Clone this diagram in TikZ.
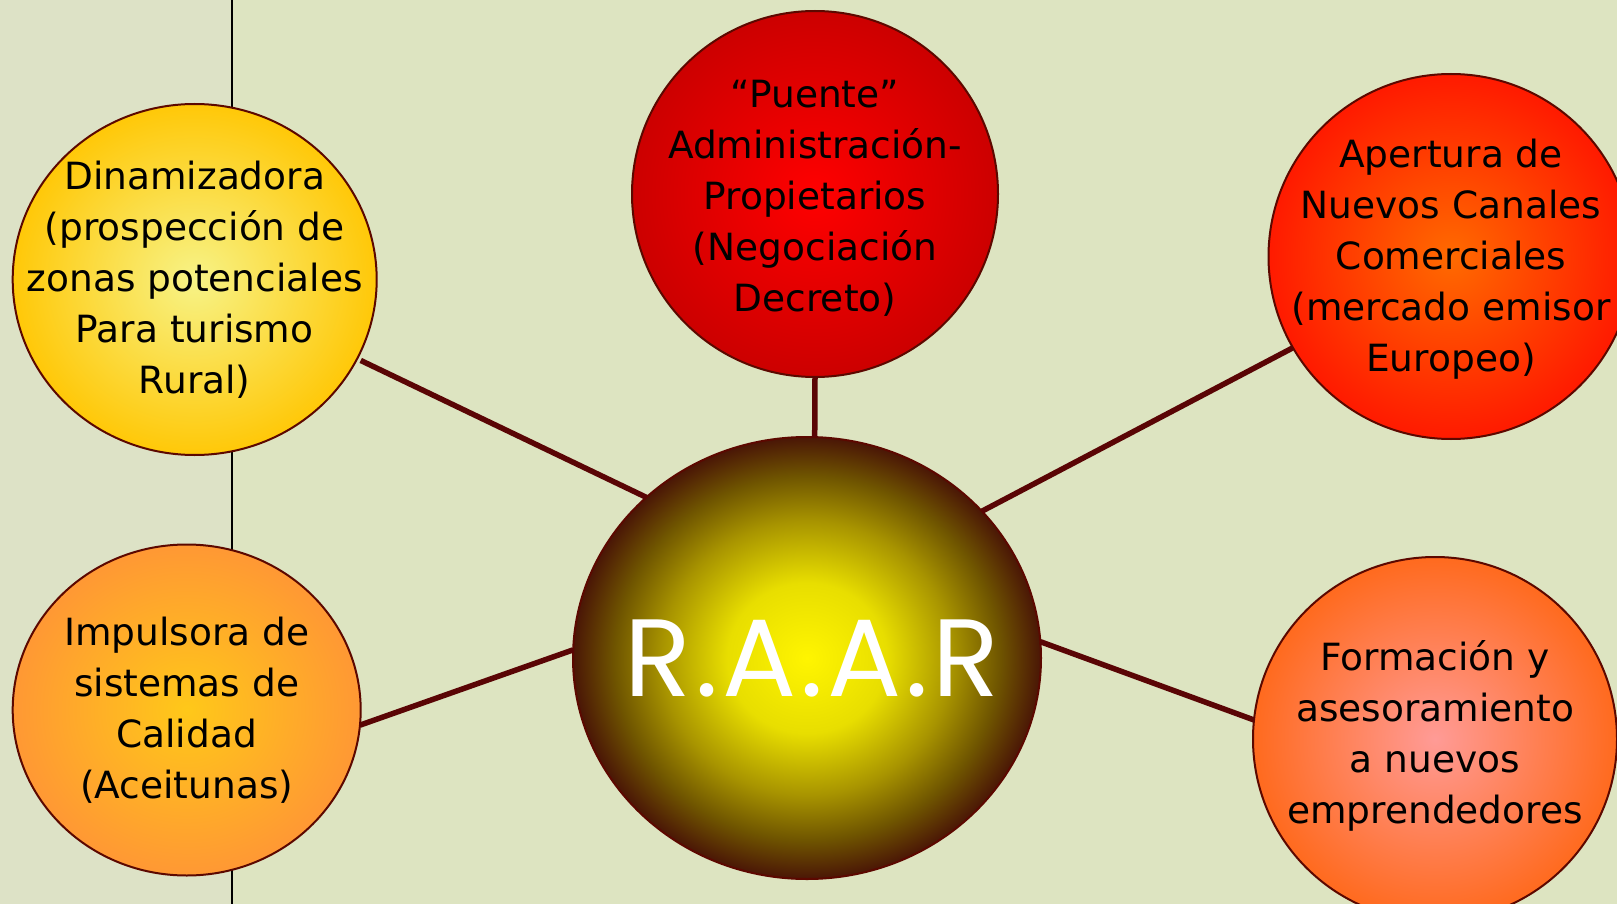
\documentclass[tikz,border=0pt]{standalone}
\usepackage{fontspec}
\setmainfont{DejaVu Sans}
\newfontfamily\raarfont[LetterSpace=3.5]{Poppins}
\usetikzlibrary{shapes.geometric}
\definecolor{bgL}{RGB}{221,226,198}
\definecolor{bgR}{RGB}{221,228,193}
\definecolor{edgec}{RGB}{92,8,0}
\definecolor{linkc}{RGB}{90,5,5}
\pgfdeclareradialshading{shDin}{\pgfpoint{0bp}{0bp}}{color(0bp)=(rgb,255:red,247;green,243;blue,135); color(25bp)=(rgb,255:red,255;green,200;blue,8); color(50bp)=(rgb,255:red,255;green,200;blue,8)}
\pgfdeclareradialshading{shImp}{\pgfpoint{0bp}{0bp}}{color(0bp)=(rgb,255:red,255;green,200;blue,25); color(25bp)=(rgb,255:red,255;green,152;blue,52); color(50bp)=(rgb,255:red,255;green,152;blue,52)}
\pgfdeclareradialshading{shPue}{\pgfpoint{0bp}{0bp}}{color(0bp)=(rgb,255:red,255;green,0;blue,0); color(25bp)=(rgb,255:red,204;green,0;blue,0); color(50bp)=(rgb,255:red,204;green,0;blue,0)}
\pgfdeclareradialshading{shApe}{\pgfpoint{0bp}{0bp}}{color(0bp)=(rgb,255:red,255;green,106;blue,0); color(25bp)=(rgb,255:red,255;green,26;blue,0); color(50bp)=(rgb,255:red,255;green,26;blue,0)}
\pgfdeclareradialshading{shFor}{\pgfpoint{0bp}{0bp}}{color(0bp)=(rgb,255:red,255;green,155;blue,150); color(25bp)=(rgb,255:red,255;green,106;blue,30); color(50bp)=(rgb,255:red,255;green,106;blue,30)}
\pgfdeclareradialshading{shRaar}{\pgfpoint{0bp}{0bp}}{color(0bp)=(rgb,255:red,255;green,245;blue,0); color(8.5bp)=(rgb,255:red,232;green,222;blue,0); color(15.5bp)=(rgb,255:red,168;green,148;blue,0); color(20.5bp)=(rgb,255:red,112;green,86;blue,0); color(25bp)=(rgb,255:red,74;green,22;blue,6); color(50bp)=(rgb,255:red,74;green,22;blue,6)}
\tikzset{
  bubble/.style={ellipse, draw=edgec, line width=2pt, inner sep=0pt, outer sep=0pt},
  btext/.style={align=center, text=black, font=\fontsize{37.5}{51}\selectfont},
  link/.style={draw=linkc, line width=5.5pt},
}
\begin{document}
\begin{tikzpicture}[x=1pt, y=-1pt]
\useasboundingbox (0,0) rectangle (1617,904);
\fill[bgL] (0,0) rectangle (232,904);
\fill[bgR] (232,0) rectangle (1617,904);
\draw[black, line width=2pt] (232,0) -- (232,904);

\node[bubble, shading=shDin, minimum width=364pt, minimum height=351pt,
  label={[btext]center:Dinamizadora\\(prospección de\\zonas potenciales\\Para turismo\\Rural)}] (din) at (194.7,279.5) {};
\node[bubble, shading=shImp, minimum width=348pt, minimum height=331pt,
  label={[btext]center:Impulsora de\\ sistemas de\\Calidad\\(Aceitunas)}] (imp) at (186.7,710) {};
\node[bubble, shading=shPue, minimum width=366pt, minimum height=366pt,
  label={[btext, yshift=-4pt]center:“Puente”\\Administración-\\Propietarios\\(Negociación\\Decreto)}] (pue) at (815,194) {};
\node[bubble, shading=shApe, minimum width=365pt, minimum height=365pt,
  label={[btext, yshift=-3pt]center:Apertura de\\Nuevos Canales\\Comerciales\\(mercado emisor\\Europeo)}] (ape) at (1451,256.5) {};
\node[bubble, shading=shFor, minimum width=364pt, minimum height=364pt,
  label={[btext, yshift=3pt]center:Formación y\\asesoramiento\\a nuevos\\emprendedores}] (for) at (1435,739) {};
\node[bubble, shading=shRaar, minimum width=468pt, minimum height=442pt,
  label={[text=white, xshift=5pt, font=\raarfont\fontsize{110}{114}\selectfont]center:R.A.A.R}] (raar) at (807,658) {};

\draw[link, shorten <=4pt] (din.-26.8) -- (raar.135.2);
\draw[link] (pue.south) -- (raar.88.2);
\draw[link] (ape.210.8) -- (raar.40.1);
\draw[link] (imp.-5.3) -- (raar.178);
\draw[link] (for.174.7) -- (raar.4.9);
\end{tikzpicture}
\end{document}
